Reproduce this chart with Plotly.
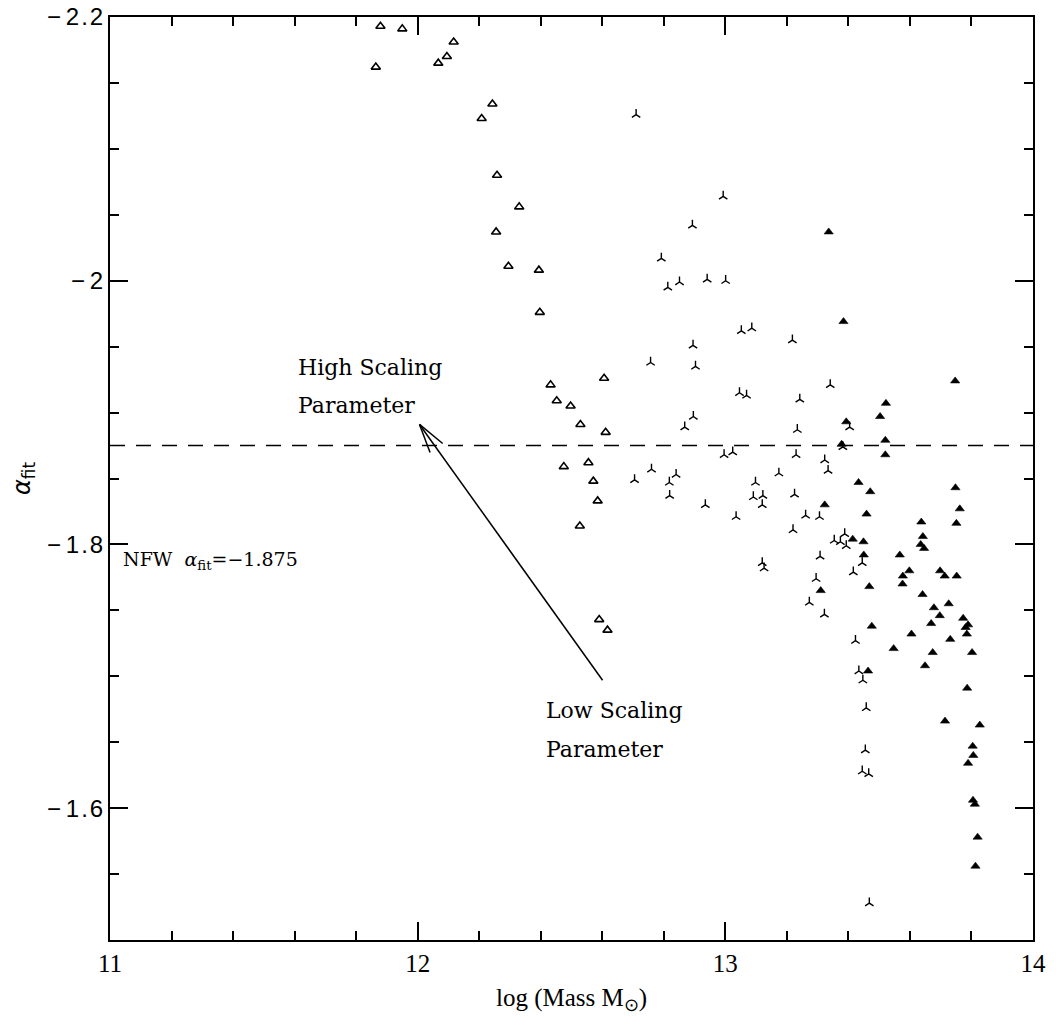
import math
import plotly.graph_objects as go

# ---------------- data ----------------
# Open triangles
open_mass = [11.879, 11.950, 11.864, 12.117, 12.095, 12.067, 12.243, 12.208, 12.258,
             12.330, 12.255, 12.295, 12.394, 12.397, 12.432, 12.452, 12.497, 12.529,
             12.606, 12.611, 12.475, 12.555, 12.571, 12.585, 12.527, 12.590, 12.617]
open_alpha = [-2.193, -2.191, -2.162, -2.181, -2.170, -2.165, -2.134, -2.123, -2.080,
              -2.056, -2.037, -2.011, -2.008, -1.976, -1.921, -1.909, -1.905, -1.891,
              -1.926, -1.885, -1.859, -1.862, -1.848, -1.833, -1.814, -1.743, -1.735]

# Three-pronged ("Y") markers
y_mass = [12.710, 12.993, 12.893, 12.792, 12.813, 12.851, 12.941, 13.001, 13.052, 13.086,
          13.218, 12.895, 12.757, 12.903, 13.046, 13.069, 13.242, 12.896, 12.868, 13.234,
          12.996, 13.024, 13.230, 12.760, 12.705, 12.840, 12.818, 12.819, 12.935, 13.098,
          13.091, 13.122, 13.120, 13.174, 13.225, 13.035, 13.261, 13.306, 13.220, 13.341,
          13.404, 13.382, 13.323, 13.334, 13.388, 13.354, 13.374, 13.393, 13.445, 13.308,
          13.120, 13.126, 13.416, 13.295, 13.273, 13.322, 13.423, 13.434, 13.447, 13.458,
          13.455, 13.445, 13.466, 13.468]
y_alpha = [-2.126, -2.064, -2.042, -2.017, -1.995, -1.999, -2.001, -2.000, -1.962, -1.964,
           -1.955, -1.951, -1.938, -1.935, -1.915, -1.913, -1.910, -1.897, -1.889, -1.887,
           -1.868, -1.870, -1.868, -1.857, -1.849, -1.853, -1.847, -1.837, -1.830, -1.847,
           -1.836, -1.837, -1.830, -1.854, -1.838, -1.821, -1.822, -1.821, -1.811, -1.921,
           -1.889, -1.874, -1.864, -1.856, -1.808, -1.803, -1.802, -1.799, -1.786, -1.791,
           -1.786, -1.782, -1.779, -1.774, -1.756, -1.747, -1.727, -1.704, -1.697, -1.676,
           -1.644, -1.628, -1.626, -1.528]

# Filled triangles
fill_mass = [13.336, 13.384, 13.747, 13.522, 13.503, 13.393, 13.520, 13.378, 13.520, 13.433,
             13.471, 13.323, 13.459, 13.637, 13.748, 13.751, 13.762, 13.414, 13.449, 13.450,
             13.642, 13.635, 13.646, 13.567, 13.598, 13.577, 13.576, 13.698, 13.713, 13.752,
             13.641, 13.310, 13.468, 13.678, 13.726, 13.697, 13.773, 13.669, 13.789, 13.781,
             13.785, 13.605, 13.476, 13.731, 13.547, 13.674, 13.802, 13.649, 13.464, 13.786,
             13.714, 13.827, 13.804, 13.806, 13.789, 13.805, 13.811, 13.820, 13.813]
fill_alpha = [-2.037, -1.969, -1.924, -1.907, -1.897, -1.893, -1.879, -1.876, -1.868, -1.847,
              -1.840, -1.830, -1.823, -1.817, -1.843, -1.816, -1.827, -1.804, -1.802, -1.792,
              -1.806, -1.800, -1.797, -1.792, -1.780, -1.776, -1.770, -1.780, -1.776, -1.776,
              -1.762, -1.765, -1.768, -1.752, -1.755, -1.746, -1.744, -1.740, -1.739, -1.737,
              -1.732, -1.732, -1.738, -1.728, -1.721, -1.718, -1.718, -1.708, -1.704, -1.691,
              -1.666, -1.663, -1.647, -1.640, -1.634, -1.606, -1.603, -1.578, -1.556]

NFW_ALPHA = -1.875
x_tick_vals = [11, 12, 13, 14]
x_tick_text = ["11", "12", "13", "14"]
y_tick_vals = [-2.2, -2.0, -1.8, -1.6]
y_tick_text = ["\u2212\u20092\u200a.\u200a2", "\u2212\u20092",
               "\u2212\u20091\u200a.\u200a8", "\u2212\u20091\u200a.\u200a6"]

# ---------------- figure ----------------
X_RANGE = [11, 14]
Y_RANGE = [-1.5, -2.2]
W, H = 1056, 1021
M = dict(l=110, r=23, t=17, b=81)

fig = go.Figure()
fig.add_trace(go.Scatter(
    x=open_mass, y=open_alpha, mode="markers",
    marker=dict(symbol="triangle-up-open", size=8, color="black",
                line=dict(width=1.6, color="black"))))
fig.add_trace(go.Scatter(
    x=y_mass, y=y_alpha, mode="markers",
    marker=dict(symbol="y-up", size=7, color="black",
                line=dict(width=1.4, color="black"))))
fig.add_trace(go.Scatter(
    x=fill_mass, y=fill_alpha, mode="markers",
    marker=dict(symbol="triangle-up", size=8, color="black",
                line=dict(width=0.6, color="black"))))

shapes = [dict(type="line", xref="paper", x0=0, x1=1, yref="y", y0=NFW_ALPHA, y1=NFW_ALPHA,
               line=dict(color="black", width=1.5, dash="15px,11px"))]

# arrow from "Low Scaling Parameter" to "High Scaling Parameter"
head = (12.006, -1.891)
tail = (12.601, -1.697)
sx = (W - M["l"] - M["r"]) / (X_RANGE[1] - X_RANGE[0])
sy = (H - M["t"] - M["b"]) / (Y_RANGE[0] - Y_RANGE[1])
shapes.append(dict(type="line", x0=head[0], y0=head[1], x1=tail[0], y1=tail[1],
                   xref="x", yref="y", line=dict(color="black", width=1.5)))
dx = (tail[0] - head[0]) * sx
dy = (tail[1] - head[1]) * sy
L = math.hypot(dx, dy)
ux, uy = dx / L, dy / L
barb, ang = 30, math.radians(15)
for s in (1, -1):
    c, si = math.cos(s * ang), math.sin(s * ang)
    bx, by = ux * c - uy * si, ux * si + uy * c
    shapes.append(dict(type="line", x0=head[0], y0=head[1],
                       x1=head[0] + bx * barb / sx, y1=head[1] + by * barb / sy,
                       xref="x", yref="y", line=dict(color="black", width=1.5)))

serif = "DejaVu Serif"
ann_font = dict(family=serif, size=22, color="black")
annotations = [
    dict(x=11.603, y=-1.9345, text="High Scaling", showarrow=False, xanchor="left",
         yanchor="middle", font=ann_font),
    dict(x=11.603, y=-1.9051, text="Parameter", showarrow=False, xanchor="left",
         yanchor="middle", font=ann_font),
    dict(x=12.412, y=-1.6739, text="Low Scaling", showarrow=False, xanchor="left",
         yanchor="middle", font=ann_font),
    dict(x=12.412, y=-1.6444, text="Parameter", showarrow=False, xanchor="left",
         yanchor="middle", font=ann_font),
    dict(x=11.037, y=-1.7876, text="NFW  <i>\u03b1</i><sub>fit</sub>=\u22121.875",
         showarrow=False, xanchor="left", yanchor="middle",
         font=dict(family=serif, size=19, color="black")),
]

fig.update_layout(
    width=W, height=H, margin=M, showlegend=False,
    plot_bgcolor="white", paper_bgcolor="white",
    shapes=shapes, annotations=annotations,
)
fig.update_xaxes(
    range=X_RANGE, tickvals=x_tick_vals, ticktext=x_tick_text, ticks="inside", ticklen=18,
    tickwidth=1.5, tickcolor="black",
    minor=dict(tick0=11, dtick=0.2, ticks="inside", ticklen=9,
               tickwidth=1.5, tickcolor="black", showgrid=False),
    showline=True, linewidth=2, linecolor="black", mirror="ticks",
    showgrid=False, zeroline=False, automargin=False,
    tickfont=dict(family="Liberation Serif", size=25, color="black"),
    title=dict(text="log (Mass M<sub>\u2299</sub>)", standoff=12,
               font=dict(family="Liberation Serif", size=25, color="black")),
)
fig.update_yaxes(
    range=Y_RANGE, tickvals=y_tick_vals, ticktext=y_tick_text, ticks="inside", ticklen=18,
    tickwidth=1.5, tickcolor="black",
    minor=dict(tick0=-2.2, dtick=0.05, ticks="inside", ticklen=9, tickwidth=1.5,
               tickcolor="black", showgrid=False),
    showline=True, linewidth=2, linecolor="black", mirror="ticks",
    showgrid=False, zeroline=False, automargin=False,
    tickfont=dict(family="Liberation Sans", size=24, color="black"),
    title=dict(text="<i>\u03b1</i><sub>fit</sub>", standoff=10,
               font=dict(family="DejaVu Sans", size=24, color="black")),
)

fig.write_html("out.html")
